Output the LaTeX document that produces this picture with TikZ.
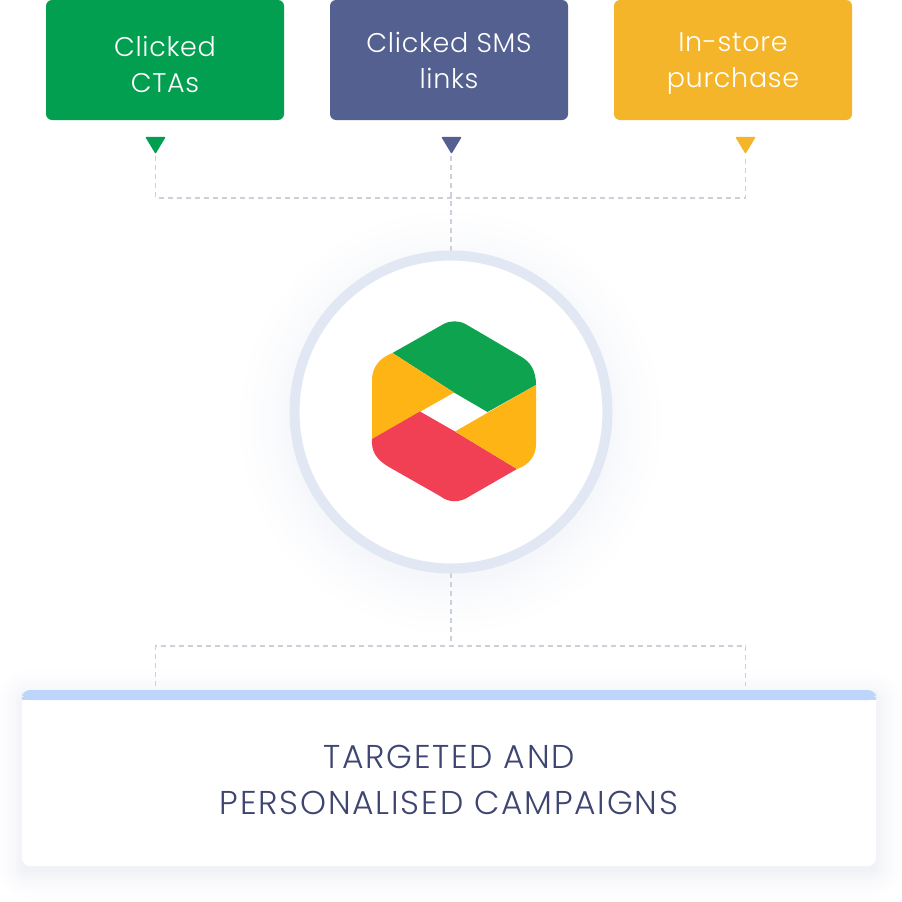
\documentclass[tikz,border=0pt]{standalone}
\usepackage{fontspec}
\setmainfont{Poppins Light}
\newfontfamily\boxfont[LetterSpace=2.6]{Poppins Light}
\newfontfamily\cardfont[LetterSpace=5.4]{Poppins Light}
\definecolor{cgreen}{HTML}{039F51}
\definecolor{cblue}{HTML}{54608F}
\definecolor{cyellow}{HTML}{F4B52B}
\definecolor{lgreen}{HTML}{0EA34F}
\definecolor{lyellow}{HTML}{FEB415}
\definecolor{lred}{HTML}{F13F54}
\definecolor{ring}{HTML}{E1E7F3}
\definecolor{dash}{HTML}{CFCFDB}
\definecolor{bar}{HTML}{BDD5FB}
\definecolor{ink}{HTML}{3E4570}
\definecolor{shade}{HTML}{EFF2F8}
\definecolor{cardshade}{HTML}{EEF0F5}
\newcommand{\lh}{\rule[-9pt]{0pt}{27pt}}
\tikzset{
  x=1pt,y=-1pt,
  topbox/.style={draw=none,rounded corners=6pt,minimum width=238pt,minimum height=120pt,inner sep=0pt},
  boxtext/.style={text=white,align=center,inner sep=0pt,font=\boxfont\fontsize{27}{36}\selectfont},
  tip/.style={fill=#1,draw=#1,line width=1.5pt,line join=round},
  link/.style={draw=dash,line width=1.4pt,dash pattern=on 5pt off 4pt},
  cardtext/.style={text=ink,align=center,inner sep=0pt,font=\cardfont\fontsize{33}{46}\selectfont},
}
\begin{document}
\begin{tikzpicture}
\useasboundingbox (0,0) rectangle (902,902);
\fill[white] (0,0) rectangle (902,902);
% glow round the circle
\foreach \r/\m in {215/2,210/5,205/8,200/12,195/16,190/21,185/26,180/32,175/38,170/45,165/52,160/60}{\fill[shade!\m!white] (451,422) circle[radius=\r];}
% card shadow
\foreach \g/\m in {26/3,24/6,22/10,20/14,18/19,16/24,14/30,12/36,10/43,8/50,6/58,4/66,2/75,0/85}{\fill[cardshade!\m!white,rounded corners=\g pt+6pt] (22-\g,690+6-\g) rectangle (876+\g,866+6+\g);}
% connectors
\coordinate (t1) at (155.5,156);
\coordinate (t2) at (451,156);
\coordinate (t3) at (745.5,156);
\coordinate (j1) at (155.5,198);
\coordinate (j3) at (745.5,198);
\coordinate (j2) at (451,646);
\coordinate (k1) at (155.5,646);
\coordinate (k3) at (745.5,646);
\coordinate (b1) at (155.5,686);
\coordinate (b3) at (745.5,686);
\node[circle,minimum size=322pt,inner sep=0pt,fill=white,draw=none] (hub) at (451,412) {};
\draw[link] (t1) -- (j1) -- (j3) -- (t3);
\draw[link] (t2) -- (hub.north);
\draw[link] (hub.south) -- (j2);
\draw[link] (b1) -- (k1) -- (k3) -- (b3);
% boxes
\node[topbox,fill=cgreen,label={[boxtext,yshift=-9pt]center:{\lh Clicked\\\lh CTAs}}] (a) at (165,60) {};
\node[topbox,fill=cblue,label={[boxtext,yshift=-5pt]center:{\lh Clicked SMS\\\lh links}}] (b) at (449,60) {};
\node[topbox,fill=cyellow,label={[boxtext,yshift=-5pt]center:{\lh In-store\\\lh purchase}}] (c) at (733,60) {};
% arrowheads
\fill[tip=cgreen] (146.5,137.5) -- (164.5,137.5) -- (155.5,152.5) -- cycle;
\fill[tip=cblue] (442.5,137.5) -- (460.5,137.5) -- (451.5,152.5) -- cycle;
\fill[tip=cyellow] (736.5,137.5) -- (754.5,137.5) -- (745.5,152.5) -- cycle;
% hub
\draw[ring,line width=10pt] (hub.center) circle[radius=156.5];
% logo
\fill[lgreen] (392.5,353) -- (441,325.5) .. controls (449,320) and (460,320) .. (468,325.5) -- (520,356) .. controls (531,362) and (536,371) .. (536,385) -- (487.5,412) -- (454,392.5) -- cycle;
\fill[lyellow] (392.5,353) -- (454,392.5) -- (372,439) -- (372,380) .. controls (372,368) and (379,358) .. (392.5,353) -- cycle;
\fill[lred] (372,439) -- (420,411.5) -- (455,431.5) -- (517,469) -- (470,496) .. controls (460,503) and (449,503) .. (440,496) -- (389,467) .. controls (377,460) and (371,452) .. (372,439) -- cycle;
\fill[lyellow] (455,431.5) -- (536,385) -- (536,444) .. controls (536,456) and (529,465) .. (517,469) -- cycle;
% card
\fill[white,rounded corners=8pt] (22,690) rectangle (876,866);
\fill[bar,rounded corners=8pt] (22,700) -- (22,690) -- (876,690) -- (876,700) -- cycle;
\fill[bar] (22,697) rectangle (876,700);
\node[cardtext] (card) at (449,784.5) {\lh TARGETED AND\\\lh PERSONALISED CAMPAIGNS};
\end{tikzpicture}
\end{document}
